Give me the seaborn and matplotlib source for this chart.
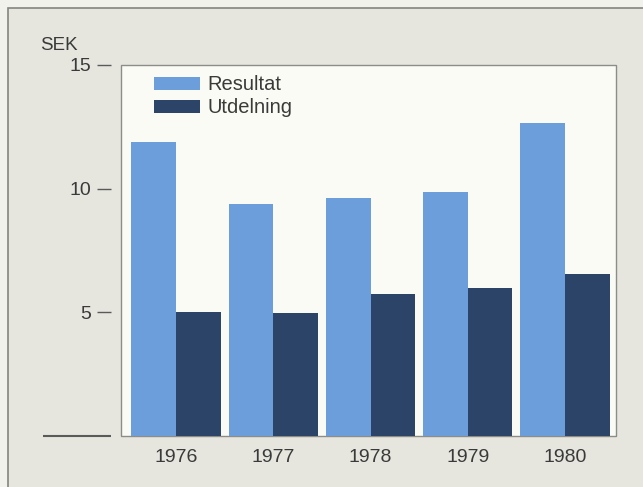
import matplotlib
matplotlib.use("Agg")
import matplotlib.pyplot as plt
from matplotlib.patches import Rectangle
import pandas as pd
import seaborn as sns

# Earnings and dividend per share, SEK
years = ["1976", "1977", "1978", "1979", "1980"]
resultat = [11.90, 9.37, 9.61, 9.85, 12.64]
utdelning = [5.03, 4.98, 5.75, 6.00, 6.55]
series_names = ["Resultat", "Utdelning"]
ytick_values = [0, 5, 10, 15]
ytick_labels = ["", "5", "10", "15"]

light_blue = "#6b9edb"
dark_blue = "#2c4467"
text_color = "#3a3a3a"
tick_color = "#5a5a58"

sns.set_style("white")
plt.rcParams["font.family"] = ["Liberation Sans", "DejaVu Sans"]
plt.rcParams["font.size"] = 14

df = pd.DataFrame({
    "year": years * 2,
    "value": resultat + utdelning,
    "series": [series_names[0]] * len(years) + [series_names[1]] * len(years),
})

fig = plt.figure(figsize=(6.43, 4.87), dpi=100)
fig.set_facecolor("#f2f2ec")
# page panel with its rule along the top and left
fig.patches.append(Rectangle((8 / 643, -0.05), 1.0, 1 - 8 / 487 + 0.05,
                             transform=fig.transFigure, facecolor="#e6e6df",
                             edgecolor="#85857f", lw=1.2, zorder=-1))

ax = fig.add_axes([121 / 643, 51 / 487, 495 / 643, 371 / 487])
sns.barplot(data=df, x="year", y="value", hue="series",
            palette=[light_blue, dark_blue], width=0.917, saturation=1,
            linewidth=0, ax=ax)

ax.set_xlim(-0.566, 4.524)
ax.set_ylim(0, 15)
ax.set_xlabel("")
ax.set_ylabel("")

# white plotting panel with a thin grey frame
ax.patch.set_facecolor("#fbfbf5")
ax.patch.set_edgecolor("#8c8c88")
ax.patch.set_linewidth(1.0)
for side in ["top", "right", "bottom"]:
    ax.spines[side].set_visible(False)
ax.spines["left"].set_position(("outward", 7))
ax.spines["left"].set_visible(False)

ax.set_yticks(ytick_values)
ax.set_yticklabels(ytick_labels)
ax.tick_params(axis="y", left=True, direction="out", length=10, width=1.0,
               color=tick_color, pad=4.5, labelsize=14, labelcolor=text_color)
ax.yaxis.get_major_ticks()[0].tick1line.set_markersize(49)
ax.yaxis.get_major_ticks()[0].tick1line.set_markeredgewidth(1.5)
ax.tick_params(axis="x", bottom=False, length=0, pad=9.5, labelsize=14,
               labelcolor=text_color)

handles, labels = ax.get_legend_handles_labels()
ax.legend(handles=handles, labels=labels, loc="upper left",
          bbox_to_anchor=(0.067, 0.972), frameon=False, borderpad=0,
          borderaxespad=0, handlelength=2.3, handleheight=0.62,
          handletextpad=0.35, labelspacing=0.2, fontsize=14.5,
          labelcolor=text_color)

fig.text(40 / 643, 1 - 45 / 487, "SEK", ha="left", va="center",
         fontsize=13.5, color=text_color)

fig.savefig("out.png", dpi=100, facecolor=fig.get_facecolor())
